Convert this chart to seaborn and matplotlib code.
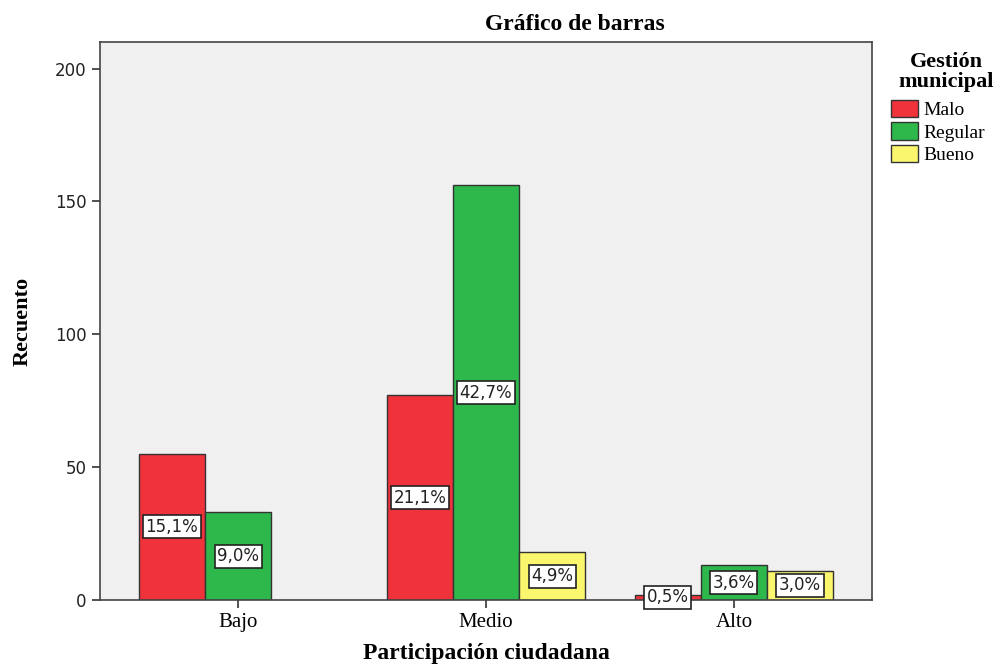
import matplotlib
matplotlib.use("Agg")
import matplotlib.pyplot as plt
import seaborn as sns
import pandas as pd

# ---- data ----
categories = ["Bajo", "Medio", "Alto"]
groups = ["Malo", "Regular", "Bueno"]
malo = [55, 77, 2]
regular = [33, 156, 13]
bueno = [0, 18, 11]
colors = ["#F0333B", "#2EB74B", "#FAF66E"]

rows = []
for g, vals in zip(groups, [malo, regular, bueno]):
    for c, v in zip(categories, vals):
        if v > 0:
            rows.append({"Participación ciudadana": c, "Gestión municipal": g, "Recuento": v})
df = pd.DataFrame(rows)
total = sum(malo) + sum(regular) + sum(bueno)

serif = "Liberation Serif"
sans = "DejaVu Sans"

fig = plt.figure(figsize=(10.07, 6.66), dpi=100)
ax = fig.add_axes([100 / 1007, 1 - 600 / 666, 772 / 1007, 558 / 666])
ax.set_facecolor("#F0F0F0")

sns.barplot(data=df, x="Participación ciudadana", y="Recuento", hue="Gestión municipal",
            order=categories, hue_order=groups, palette=colors, width=0.8,
            edgecolor="#333333", linewidth=1.0, errorbar=None, saturation=1, ax=ax)

# percentage labels
for cont in ax.containers:
    for bar in cont:
        h = bar.get_height()
        if not h or h != h:
            continue
        pct = f"{h / total * 100:.1f}".replace(".", ",") + "%"
        ax.text(bar.get_x() + bar.get_width() / 2, h / 2, pct, ha="center", va="center",
                fontsize=12, family=sans, color="#222222",
                bbox=dict(boxstyle="square,pad=0.15", fc="white", ec="#222222", lw=1.2))

ax.set_xlim(-0.557, 2.557)
ax.set_ylim(0, 210)
ax.set_yticks([0, 50, 100, 150, 200])

for sp in ax.spines.values():
    sp.set_color("#444444")
    sp.set_linewidth(1.2)

ax.tick_params(axis="both", direction="out", length=6, width=1.2, color="#333333")
ax.tick_params(axis="y", labelsize=12, labelcolor="#222222")
for lab in ax.get_yticklabels():
    lab.set_family(sans)
for lab in ax.get_xticklabels():
    lab.set_family(serif)
    lab.set_fontsize(15)

ax.set_xlabel("Participación ciudadana", family=serif, fontsize=17, fontweight="bold", labelpad=8)
ax.set_ylabel("Recuento", family=serif, fontsize=16, fontweight="bold", labelpad=16)

fig.text(575 / 1007, 1 - 25 / 666, "Gráfico de barras", ha="center", va="center",
         family=serif, fontsize=17, fontweight="bold")

handles, labels = ax.get_legend_handles_labels()
ax.get_legend().remove()
fig.text(946 / 1007, 1 - 72 / 666, "Gestión\nmunicipal", ha="center", va="center",
         multialignment="center", linespacing=1.05,
         family=serif, fontsize=16, fontweight="bold")
leg = fig.legend(handles, labels, loc="upper left",
                 bbox_to_anchor=(891 / 1007, 1 - 100 / 666), frameon=False,
                 prop={"family": serif, "size": 14},
                 handlelength=1.4, handleheight=1.0, handletextpad=0.25,
                 labelspacing=0.15, borderaxespad=0, borderpad=0)

fig.savefig("out.png", dpi=100)
